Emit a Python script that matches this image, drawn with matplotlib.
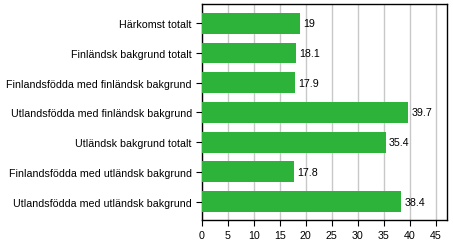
import matplotlib
matplotlib.use("Agg")
import matplotlib.pyplot as plt

plt.rcParams['font.family'] = ['Liberation Sans', 'DejaVu Sans']
plt.rcParams['font.size'] = 7.7

categories = [
    "Härkomst totalt",
    "Finländsk bakgrund totalt",
    "Finlandsfödda med finländsk bakgrund",
    "Utlandsfödda med finländsk bakgrund",
    "Utländsk bakgrund totalt",
    "Finlandsfödda med utländsk bakgrund",
    "Utlandsfödda med utländsk bakgrund",
]
values = [19, 18.1, 17.9, 39.7, 35.4, 17.8, 38.4]
value_labels = ["19", "18.1", "17.9", "39.7", "35.4", "17.8", "38.4"]
xticks = [0, 5, 10, 15, 20, 25, 30, 35, 40, 45]

fig = plt.figure(figsize=(4.53, 2.53), dpi=100)
ax = fig.add_axes([201.7 / 453, 1 - 221 / 253, (447 - 201.7) / 453, (221 - 5) / 253])

pos = list(range(len(categories)))
ax.barh(pos, values, height=0.7, color='#2db23a', zorder=3)
for p, v, t in zip(pos, values, value_labels):
    ax.text(v + 0.6, p, t, va='center', ha='left', color='black', zorder=4)

ax.set_xlim(0, 47.2)
ax.set_ylim(6.62, -0.65)
ax.set_yticks(pos)
ax.set_yticklabels(categories)
ax.set_xticks(xticks)
ax.xaxis.grid(True, color='#c8c8c8', linewidth=1, zorder=0)
ax.tick_params(axis='both', direction='out', length=4, width=0.8, colors='black', pad=3)
for s in ax.spines.values():
    s.set_linewidth(1)
    s.set_color('black')

fig.savefig("out.png", dpi=100)
